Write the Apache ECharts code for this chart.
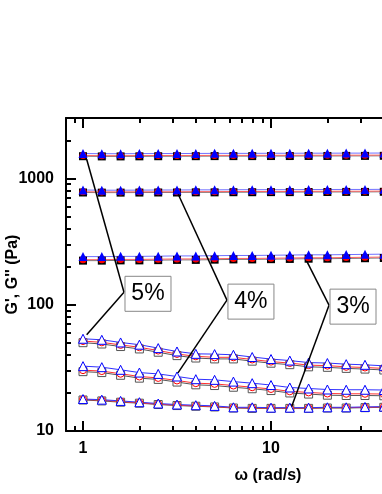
<!DOCTYPE html>
<html><head><meta charset="utf-8">
<script src="https://cdn.jsdelivr.net/npm/echarts@6/dist/echarts.min.js"></script>
<style>html,body{margin:0;padding:0;background:#fff}#c{width:382px;height:494px}</style>
</head><body><div id="c"></div>
<script>
// ---- data ----
const freq = [1, 1.259, 1.585, 1.995, 2.512, 3.162, 3.981, 5.012, 6.31, 7.943, 10, 12.59, 15.85, 19.95, 25.12, 31.62, 39.81];

// G' (filled symbols)
const gp5_tri = [1570,1565,1565,1568,1570,1570,1572,1575,1575,1575,1578,1578,1580,1580,1582,1582,1585];
const gp5_cir = [1515,1510,1510,1512,1515,1515,1516,1518,1518,1518,1520,1520,1522,1522,1524,1524,1526];
const gp5_sq  = [1495,1490,1490,1492,1495,1495,1496,1498,1498,1498,1500,1500,1502,1502,1504,1504,1506];
const gp4_tri = [808,805,805,806,808,808,810,810,812,812,813,813,815,815,816,816,818];
const gp4_cir = [782,780,780,781,782,782,784,784,786,786,787,787,789,789,790,790,792];
const gp4_sq  = [772,770,770,771,772,772,774,774,776,776,777,777,779,779,780,780,782];
const gp3_tri = [240,240,241,241,242,243,243,244,245,245,246,247,248,248,249,250,251];
const gp3_cir = [227,227,228,228,229,230,230,231,232,232,233,234,235,235,236,237,238];
const gp3_sq  = [223,223,224,224,225,226,226,227,228,228,229,230,231,231,232,233,234];

// G'' (open symbols)
const gpp5_tri = [53.7,52.7,50.2,48.2,45.3,42.6,40.8,40.6,40.1,38.5,37.1,36.1,34.8,34.5,33.8,33.4,32.8];
const gpp5_cir = [51.5,50.3,48.0,46.0,43.3,40.7,39.0,38.3,38.3,36.8,35.4,34.5,33.2,32.9,32.2,31.8,31.3];
const gpp5_sq  = [50.0,48.8,46.6,44.6,42.0,39.5,37.8,37.2,37.2,35.7,34.4,33.5,32.2,31.9,31.3,30.9,30.4];
const gpp4_tri = [32.6,32.0,30.5,29.0,28.3,27.0,25.7,25.4,24.6,23.9,23.1,22.1,21.7,21.3,21.2,21.2,21.1];
const gpp4_cir = [30.3,29.8,28.4,27.0,26.3,25.1,23.9,23.6,22.9,22.2,21.5,20.6,20.2,19.8,19.7,19.7,19.6];
const gpp4_sq  = [29.5,29.0,27.6,26.2,25.6,24.4,23.2,22.9,22.2,21.6,20.9,20.0,19.6,19.2,19.1,19.1,19.0];
const gpp3_tri = [17.9,17.7,17.3,16.9,16.5,16.2,16.0,15.8,15.4,15.4,15.3,15.3,15.3,15.4,15.4,15.5,15.6];
const gpp3_cir = [17.8,17.5,17.1,16.7,16.3,16.0,15.8,15.6,15.3,15.2,15.2,15.2,15.2,15.3,15.3,15.4,15.5];
const gpp3_sq  = [17.6,17.3,16.9,16.6,16.2,15.9,15.7,15.5,15.2,15.1,15.1,15.1,15.1,15.2,15.2,15.3,15.4];

// tick labels
const xMajor = [1, 10, 100];
const xMinor = [0.9, 2,3,4,5,6,7,8,9, 20,30,40,50,60,70,80,90];
const yMajor = [10, 100, 1000];
const yMinor = [20,30,40,50,60,70,80,90, 200,300,400,500,600,700,800,900, 2000,3000];

// annotations: label, box anchor [x,y], targets [[x,y],...]
const annotations = [
  {text: '5%', anchor: [1.652, 125.2], targets: [[1.046, 1416], [1.046, 57.8]]},
  {text: '4%', anchor: [5.83, 108.6], targets: [[3.21, 747], [3.2, 28.8]]},
  {text: '3%', anchor: [20.35, 99.1], targets: [[15.54, 219], [12.88, 15.6]]}
];

// ---- chart ----
const chart = echarts.init(document.getElementById('c'), null, {renderer: 'canvas'});
const FONT = '"Liberation Sans", Arial, sans-serif';
const BLUE = '#0000ff', RED = '#ff0000', BLACK = '#000000';

function mk(vals, symbol, size, color, lineColor, filled) {
  return {
    type: 'line', xAxisIndex: 0, yAxisIndex: 0,
    data: freq.map((f, i) => [f, vals[i]]),
    symbol: symbol, symbolSize: size, showSymbol: true, showAllSymbol: true,
    lineStyle: {color: lineColor, width: 1},
    itemStyle: filled ? {color: color, borderWidth: 0} : {color: '#fff', borderColor: color, borderWidth: 1},
    emphasis: {disabled: true}, silent: true, animation: false
  };
}
const series = [];
[[gp5_sq, gp5_cir, gp5_tri], [gp4_sq, gp4_cir, gp4_tri], [gp3_sq, gp3_cir, gp3_tri]].forEach(g => {
  series.push(mk(g[0], 'rect', 8, BLACK, '#777777', true));
  series.push(mk(g[1], 'circle', 7, RED, '#ff6060', true));
  series.push(mk(g[2], 'triangle', 9, BLUE, '#7070ff', true));
});
[[gpp5_sq, gpp5_cir, gpp5_tri], [gpp4_sq, gpp4_cir, gpp4_tri], [gpp3_sq, gpp3_cir, gpp3_tri]].forEach(g => {
  series.push(mk(g[0], 'rect', 8, '#555555', '#555555', false));
  series.push(mk(g[1], 'circle', 7, RED, '#ff3030', false));
  series.push(mk(g[2], 'triangle', 9, BLUE, '#3030ff', false));
});

const lineStyle = {color: '#000', width: 2};
const fmt = v => String(Math.round(v));
function xAx(pos, major, extra) {
  return Object.assign({
    type: 'log', logBase: 10, min: 0.812, max: 100, position: pos, gridIndex: 0,
    axisLine: {show: false, onZero: false, lineStyle: lineStyle},
    axisTick: {show: true, inside: true, length: major ? 10 : 5, lineStyle: {color: '#000', width: 2},
               customValues: major ? xMajor : xMinor},
    axisLabel: {show: false},
    splitLine: {show: false}, minorTick: {show: false}
  }, extra || {});
}
function yAx(major, extra) {
  return Object.assign({
    type: 'log', logBase: 10, min: 10, max: 3000, position: 'left', gridIndex: 0,
    axisLine: {show: false, onZero: false, lineStyle: lineStyle},
    axisTick: {show: true, inside: true, length: major ? 10 : 5, lineStyle: {color: '#000', width: 2},
               customValues: major ? yMajor : yMinor},
    axisLabel: {show: false},
    splitLine: {show: false}, minorTick: {show: false}
  }, extra || {});
}

chart.setOption({
  animation: false,
  backgroundColor: '#fff',
  grid: {left: 66, top: 118, width: 393, height: 313, containLabel: false, outerBoundsMode: 'none'},
  xAxis: [
    xAx('bottom', true, {
      axisLine: {show: true, onZero: false, lineStyle: lineStyle},
      axisLabel: {show: true, customValues: xMajor, formatter: fmt, margin: 10, color: '#000',
                  fontFamily: FONT, fontWeight: 'bold', fontSize: 16},
      name: 'ω (rad/s)', nameLocation: 'middle', nameGap: 37, nameMoveOverlap: false,
      nameTextStyle: {color: '#000', fontFamily: FONT, fontWeight: 'bold', fontSize: 16, padding: [0, 0, 0, 11]}
    }),
    xAx('bottom', false),
    xAx('top', true, {axisLine: {show: true, onZero: false, lineStyle: lineStyle}}),
    xAx('top', false)
  ],
  yAxis: [
    yAx(true, {
      axisLine: {show: true, onZero: false, lineStyle: lineStyle},
      axisLabel: {show: true, customValues: yMajor, formatter: fmt, margin: 12, color: '#000',
                  fontFamily: FONT, fontWeight: 'bold', fontSize: 16},
      name: "G', G'' (Pa)", nameLocation: 'middle', nameGap: 45, nameMoveOverlap: false,
      nameTextStyle: {color: '#000', fontFamily: FONT, fontWeight: 'bold', fontSize: 16}
    }),
    yAx(false)
  ],
  series: series
});

const gr = [];
const finder = {xAxisIndex: 0, yAxisIndex: 0};
annotations.forEach(a => {
  const p = chart.convertToPixel(finder, a.anchor);
  a.targets.forEach(t => {
    const q = chart.convertToPixel(finder, t);
    gr.push({type: 'line', shape: {x1: q[0], y1: q[1], x2: p[0], y2: p[1]},
             style: {stroke: '#000', lineWidth: 1.5}, z: 100, silent: true});
  });
  gr.push({type: 'rect', shape: {x: p[0] + 1, y: p[1] - 16, width: 46, height: 35},
           style: {fill: '#fff', stroke: '#888', lineWidth: 1}, z: 101, silent: true});
  gr.push({type: 'text', x: p[0] + 24, y: p[1] + 1.5,
           style: {text: a.text, fontFamily: FONT, fontSize: 23, fill: '#000', align: 'center', verticalAlign: 'middle'},
           z: 102, silent: true});
});
chart.setOption({graphic: gr});
</script></body></html>
